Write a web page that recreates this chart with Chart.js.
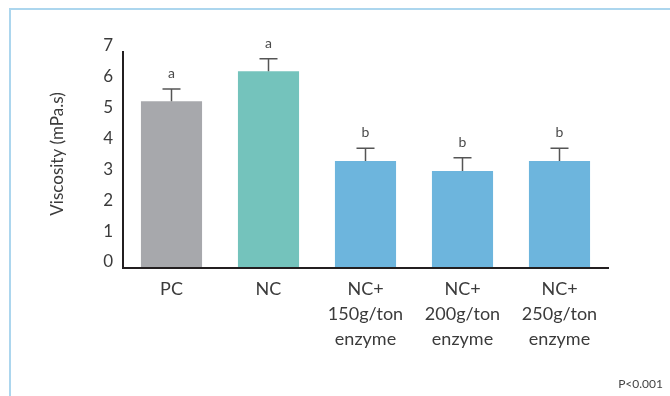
<!DOCTYPE html>
<html>
<head>
<meta charset="utf-8">
<script src="https://cdn.jsdelivr.net/npm/chart.js@4.4.1/dist/chart.umd.min.js"></script>
<style>
  html, body { margin: 0; padding: 0; background: #ffffff; }
  #wrap { width: 670px; height: 396px; position: relative; }
</style>
</head>
<body>
<div id="wrap"><canvas id="c" width="670" height="396"></canvas></div>
<script>
const categories = [
  ['PC'],
  ['NC'],
  ['NC+', '150g/ton', 'enzyme'],
  ['NC+', '200g/ton', 'enzyme'],
  ['NC+', '250g/ton', 'enzyme']
];
const viscosity = [5.4, 6.38, 3.47, 3.14, 3.47];
const errors = [0.4, 0.4, 0.41, 0.43, 0.41];
const letters = ['a', 'a', 'b', 'b', 'b'];
const barColors = ['#a7a8ac', '#74c3bc', '#6db5dd', '#6db5dd', '#6db5dd'];
const yTicks = [0, 1, 2, 3, 4, 5, 6, 7];
const yTitle = 'Viscosity (mPa.s)';
const note = 'P<0.001';

const FONT = 'Lato, "Open Sans", sans-serif';
const TEXT = '#3b3b3b';

const decor = {
  id: 'decor',
  beforeDraw(chart) {
    const ctx = chart.ctx;
    ctx.save();
    ctx.strokeStyle = '#acd6ee';
    ctx.lineWidth = 2;
    ctx.beginPath();
    ctx.moveTo(10, 396);
    ctx.lineTo(10, 9);
    ctx.lineTo(670, 9);
    ctx.stroke();
    ctx.restore();
  },
  afterDatasetsDraw(chart) {
    const ctx = chart.ctx;
    const meta = chart.getDatasetMeta(0);
    const y = chart.scales.y;
    ctx.save();
    meta.data.forEach((bar, i) => {
      const top = y.getPixelForValue(viscosity[i]);
      const cap = y.getPixelForValue(viscosity[i] + errors[i]);
      ctx.strokeStyle = '#555555';
      ctx.lineWidth = 1.5;
      ctx.beginPath();
      ctx.moveTo(bar.x, top);
      ctx.lineTo(bar.x, cap);
      ctx.moveTo(bar.x - 9, cap);
      ctx.lineTo(bar.x + 9, cap);
      ctx.stroke();
      ctx.fillStyle = '#4a4a4a';
      ctx.font = '14px ' + FONT;
      ctx.textAlign = 'center';
      ctx.textBaseline = 'alphabetic';
      ctx.fillText(letters[i], bar.x, cap - 11);
    });
    // y-axis title
    ctx.fillStyle = TEXT;
    ctx.font = '17px ' + FONT;
    ctx.textAlign = 'center';
    ctx.textBaseline = 'middle';
    ctx.translate(58, 154);
    ctx.rotate(-Math.PI / 2);
    ctx.fillText(yTitle, 0, 0);
    ctx.restore();
    // note
    ctx.save();
    ctx.fillStyle = '#444444';
    ctx.font = '12px ' + FONT;
    ctx.textAlign = 'right';
    ctx.textBaseline = 'alphabetic';
    ctx.fillText(note, 663, 388);
    ctx.restore();
  }
};

new Chart(document.getElementById('c'), {
  type: 'bar',
  data: {
    labels: categories,
    datasets: [{
      data: viscosity,
      backgroundColor: barColors,
      borderWidth: 0,
      barPercentage: 0.63,
      categoryPercentage: 1.0
    }]
  },
  options: {
    responsive: false,
    animation: false,
    devicePixelRatio: 1,
    layout: { padding: { left: 0, right: 62, top: 52, bottom: 0 } },
    plugins: { legend: { display: false }, tooltip: { enabled: false } },
    scales: {
      x: {
        grid: { display: false, drawTicks: false, tickLength: 0 },
        border: { display: true, color: '#231f20', width: 2, z: 1 },
        ticks: {
          color: TEXT,
          padding: 9,
          font: { family: FONT, size: 18, lineHeight: 1.39 },
          maxRotation: 0,
          autoSkip: false
        },
        afterFit(scale) { scale.height = 128; }
      },
      y: {
        min: 0,
        max: 7,
        afterBuildTicks(scale) { scale.ticks = yTicks.map(v => ({ value: v })); },
        grid: { display: false, drawTicks: false, tickLength: 0 },
        border: { display: true, color: '#231f20', width: 2, z: 1 },
        ticks: {
          color: TEXT,
          padding: 10,
          labelOffset: -6,
          font: { family: FONT, size: 17 }
        },
        afterFit(scale) { scale.width = 123; }
      }
    }
  },
  plugins: [decor]
});
</script>
</body>
</html>
